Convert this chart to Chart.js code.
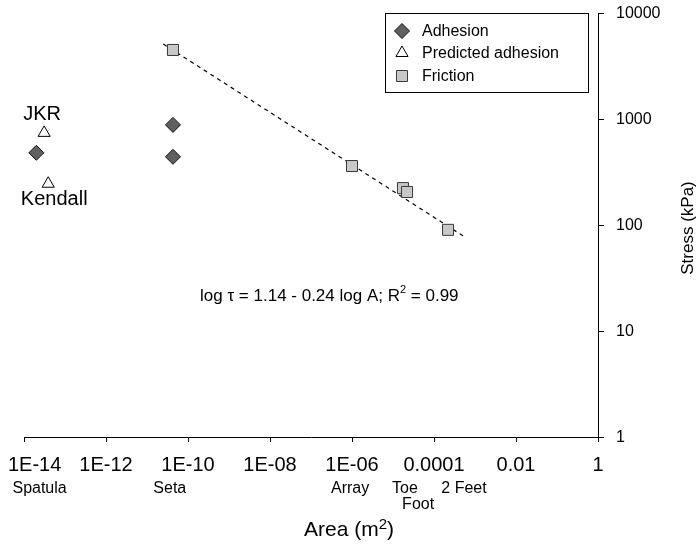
<!DOCTYPE html>
<html><head><meta charset="utf-8">
<script src="https://cdn.jsdelivr.net/npm/chart.js@4"></script>
<style>html,body{margin:0;padding:0;background:#fff}#wrap{width:698px;height:547px}</style>
</head><body><div id="wrap"><canvas id="c" width="698" height="547"></canvas></div>
<script>
// ---- data ----
const seriesNames = ['Adhesion', 'Predicted adhesion', 'Friction'];
const adhesionArea = [2e-14, 4.3e-11, 4.3e-11];
const adhesionStress = [480, 880, 440];
const predictedArea = [3.1e-14, 3.9e-14];
const predictedStress = [740, 245];
const predictedNames = ['JKR', 'Kendall'];
const frictionArea = [4.3e-11, 1e-6, 1.75e-5, 2.2e-5, 2.2e-4];
const frictionStress = [4480, 360, 223, 205, 90];
const trendArea = [2.5e-11, 5.1e-4];
const trendStress = [5100, 79];
const xTickValues = [1e-14, 1e-12, 1e-10, 1e-8, 1e-6, 1e-4, 1e-2, 1];
const xTickLabels = ['1E-14', '1E-12', '1E-10', '1E-08', '1E-06', '0.0001', '0.01', '1'];
const yTickValues = [1, 10, 100, 1000, 10000];
const yTickLabels = ['1', '10', '100', '1000', '10000'];
const scaleNames = ['Spatula', 'Seta', 'Array', 'Toe', 'Foot', '2 Feet'];
const scaleAreas = [2.4e-14, 3.6e-11, 9e-7, 1.95e-5, 4.1e-5, 5.4e-4];
const scaleRows = [0, 0, 0, 0, 1, 0];
const xTitle = ['Area (m', '2', ')'];
const yTitle = 'Stress (kPa)';
const fitText = ['log τ = 1.14 - 0.24 log A; R', '2', ' = 0.99'];

const FONT = "'Liberation Sans', Arial, Helvetica, sans-serif";
const toPts = (xs, ys) => xs.map((x, i) => ({x: x, y: ys[i]}));

function marker(ctx, style, x, y, r) {
  ctx.beginPath();
  if (style === 'rectRot') {
    ctx.moveTo(x - r, y); ctx.lineTo(x, y - r); ctx.lineTo(x + r, y); ctx.lineTo(x, y + r);
  } else if (style === 'triangle') {
    for (let k = 0; k < 3; k++) {
      const a = k * 2 * Math.PI / 3;
      const px = x + Math.sin(a) * r, py = y - Math.cos(a) * r;
      if (k === 0) ctx.moveTo(px, py); else ctx.lineTo(px, py);
    }
  } else {
    const s = Math.SQRT1_2 * r;
    ctx.rect(x - s, y - s, 2 * s, 2 * s);
  }
  ctx.closePath();
  ctx.fill(); ctx.stroke();
}

const styles = [
  {pointStyle: 'rectRot', fill: '#606060', stroke: '#111', r: 7.5},
  {pointStyle: 'triangle', fill: '#ffffff', stroke: '#000', r: 7},
  {pointStyle: 'rect', fill: '#c8c8c8', stroke: '#3a3a3a', r: 7.8}
];

const annot = {
  id: 'annot',
  afterDraw(chart) {
    const ctx = chart.ctx, x = chart.scales.x, y = chart.scales.y;
    ctx.save();
    ctx.fillStyle = '#000';
    ctx.textBaseline = 'middle';
    // x tick labels
    ctx.font = '20px ' + FONT;
    ctx.textAlign = 'left';
    xTickValues.forEach((v, i) => {
      const px = x.getPixelForValue(v);
      const w = ctx.measureText(xTickLabels[i]).width;
      let left = px - w / 2;
      left = Math.max(left, 8);
      left = Math.min(left, chart.width - w - 2);
      ctx.fillText(xTickLabels[i], left, 465);
    });
    // y tick labels
    ctx.font = '16px ' + FONT;
    ctx.textAlign = 'left';
    yTickValues.forEach((v, i) => {
      ctx.fillText(yTickLabels[i], y.left + 18, y.getPixelForValue(v) + 1);
    });
    // scale names under the axis
    ctx.font = '16px ' + FONT;
    ctx.textAlign = 'center';
    scaleNames.forEach((n, i) => {
      ctx.fillText(n, x.getPixelForValue(scaleAreas[i]), 489 + scaleRows[i] * 16);
    });
    // x title
    ctx.textAlign = 'left';
    ctx.font = '21px ' + FONT;
    const w0 = ctx.measureText(xTitle[0]).width;
    ctx.font = '15px ' + FONT;
    const w1 = ctx.measureText(xTitle[1]).width;
    ctx.font = '21px ' + FONT;
    const w2 = ctx.measureText(xTitle[2]).width;
    const sx = 349 - (w0 + w1 + w2) / 2;
    ctx.fillText(xTitle[0], sx, 530);
    ctx.font = '15px ' + FONT;
    ctx.fillText(xTitle[1], sx + w0, 525);
    ctx.font = '21px ' + FONT;
    ctx.fillText(xTitle[2], sx + w0 + w1, 530);
    // y title
    ctx.save();
    ctx.translate(688, (y.top + y.bottom) / 2 + 3);
    ctx.rotate(-Math.PI / 2);
    ctx.font = '17px ' + FONT;
    ctx.textAlign = 'center';
    ctx.fillText(yTitle, 0, 0);
    ctx.restore();
    // fit equation
    ctx.textBaseline = 'alphabetic';
    ctx.textAlign = 'left';
    ctx.font = '17px ' + FONT;
    let ex = 200;
    ctx.fillText(fitText[0], ex, 301);
    ex += ctx.measureText(fitText[0]).width;
    ctx.font = '11px ' + FONT;
    ctx.fillText(fitText[1], ex, 293);
    ex += ctx.measureText(fitText[1]).width;
    ctx.font = '17px ' + FONT;
    ctx.fillText(fitText[2], ex, 301);
    // JKR / Kendall labels
    ctx.textBaseline = 'middle';
    ctx.textAlign = 'center';
    ctx.font = '20px ' + FONT;
    const pm = chart.getDatasetMeta(1).data;
    ctx.fillText(predictedNames[0], pm[0].x - 2, pm[0].y - 18);
    ctx.fillText(predictedNames[1], pm[1].x + 6, pm[1].y + 16);
    // legend
    ctx.lineWidth = 1;
    ctx.strokeStyle = '#000';
    ctx.fillStyle = '#fff';
    ctx.fillRect(385.5, 13.5, 203, 79);
    ctx.strokeRect(385.5, 13.5, 203, 79);
    const ly = [31, 53, 76];
    seriesNames.forEach((n, i) => {
      const s = styles[i];
      ctx.fillStyle = s.fill; ctx.strokeStyle = s.stroke;
      marker(ctx, s.pointStyle, 402, ly[i], s.r);
      ctx.fillStyle = '#000';
      ctx.textAlign = 'left';
      ctx.font = '16px ' + FONT;
      ctx.fillText(n, 422, ly[i] + 1);
    });
    ctx.restore();
  }
};

new Chart(document.getElementById('c'), {
  type: 'scatter',
  data: {
    datasets: [
      {label: seriesNames[0], data: toPts(adhesionArea, adhesionStress), pointStyle: styles[0].pointStyle,
       pointRadius: styles[0].r, backgroundColor: styles[0].fill, borderColor: styles[0].stroke, borderWidth: 1},
      {label: seriesNames[1], data: toPts(predictedArea, predictedStress), pointStyle: styles[1].pointStyle,
       pointRadius: styles[1].r, backgroundColor: styles[1].fill, borderColor: styles[1].stroke, borderWidth: 1},
      {label: seriesNames[2], data: toPts(frictionArea, frictionStress), pointStyle: styles[2].pointStyle,
       pointRadius: styles[2].r, backgroundColor: styles[2].fill, borderColor: styles[2].stroke, borderWidth: 1},
      {label: 'fit', data: toPts(trendArea, trendStress), showLine: true, pointRadius: 0,
       borderColor: '#000', borderWidth: 1.2, borderDash: [4, 4], fill: false}
    ]
  },
  options: {
    responsive: false, animation: false, devicePixelRatio: 1,
    layout: {padding: {left: 24, top: 13, right: 0, bottom: 0}},
    plugins: {legend: {display: false}, tooltip: {enabled: false}},
    scales: {
      x: {
        type: 'logarithmic', min: 1e-14, max: 1, position: 'bottom',
        afterBuildTicks: s => { s.ticks = xTickValues.map(v => ({value: v})); },
        afterFit: s => { s.height = 110; },
        ticks: {display: false},
        grid: {display: true, drawOnChartArea: false, drawTicks: true, tickLength: 5, color: '#000', lineWidth: 1},
        border: {display: true, color: '#000', width: 1}
      },
      y: {
        type: 'logarithmic', min: 1, max: 10000, position: 'right',
        afterBuildTicks: s => { s.ticks = yTickValues.map(v => ({value: v})); },
        afterFit: s => { s.width = 100; },
        ticks: {display: false},
        grid: {display: true, drawOnChartArea: false, drawTicks: true, tickLength: 6, color: '#000', lineWidth: 1},
        border: {display: true, color: '#000', width: 1}
      }
    }
  },
  plugins: [annot]
});
</script>
</body></html>
